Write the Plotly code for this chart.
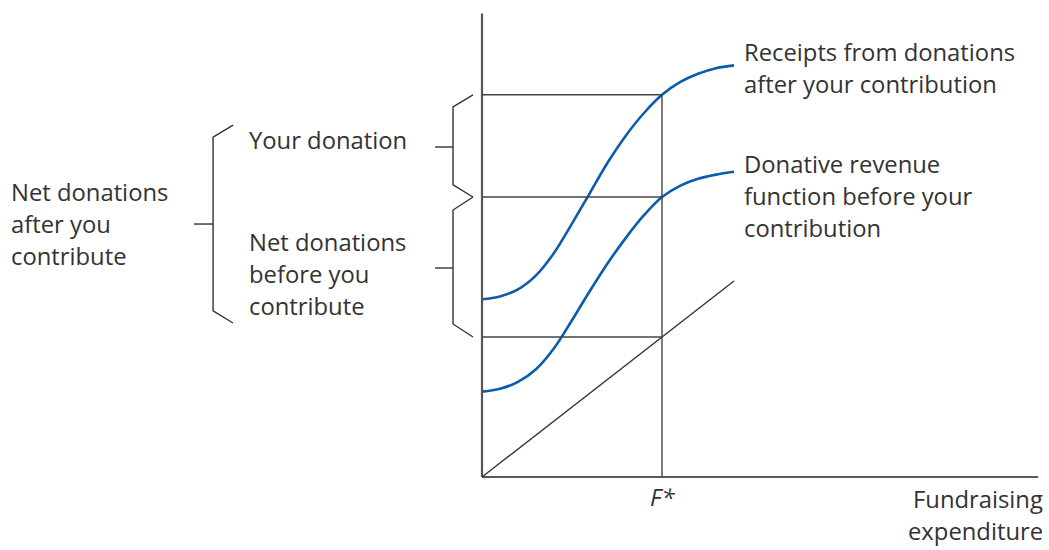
import plotly.graph_objects as go

# Fundraising expenditure (F* = 1) and revenue levels
fundraising = [0.0, 0.1, 0.2, 0.3, 0.4, 0.5, 0.6, 0.7, 0.8, 0.9, 1.0, 1.1, 1.2, 1.3, 1.4]
donative_revenue = [0.61, 0.63, 0.68, 0.77, 0.92, 1.12, 1.33, 1.53, 1.71, 1.87, 2.00, 2.08, 2.13, 2.16, 2.18]
receipts_after = [1.27, 1.29, 1.34, 1.44, 1.60, 1.81, 2.03, 2.25, 2.44, 2.60, 2.73, 2.82, 2.88, 2.92, 2.94]
cost_line_x = [0.0, 1.4]
cost_line_y = [0.0, 1.4]

f_star = 1.0
level_cost = 1.0        # fundraising cost at F*
level_before = 2.0      # net donations before your contribution
level_after = 2.73      # receipts after your contribution

x_axis_end = 3.09
y_axis_end = 3.31

BLUE = "#0b5cab"
INK = "#333333"
FONT = "Open Sans"
FS = 23.8
LINE_STEP = 0.2286

fig = go.Figure()

# Revenue curves
fig.add_trace(go.Scatter(x=fundraising, y=receipts_after, mode="lines",
                         line=dict(color=BLUE, width=2.6, shape="spline", smoothing=1.0),
                         hoverinfo="skip"))
fig.add_trace(go.Scatter(x=fundraising, y=donative_revenue, mode="lines",
                         line=dict(color=BLUE, width=2.6, shape="spline", smoothing=1.0),
                         hoverinfo="skip"))
# Cost line
fig.add_trace(go.Scatter(x=cost_line_x, y=cost_line_y, mode="lines",
                         line=dict(color=INK, width=1.4), hoverinfo="skip"))

shapes = []
def seg(x0, y0, x1, y1, color=INK, width=1.5):
    shapes.append(dict(type="line", x0=x0, y0=y0, x1=x1, y1=y1, xref="x", yref="y",
                       line=dict(color=color, width=width)))

# Axes
seg(0, 0, 0, y_axis_end, color="#555555", width=2.2)
seg(0, 0, x_axis_end, 0, color="#222222", width=1.6)

# Guide lines at F*
for lvl in (level_cost, level_before, level_after):
    seg(0, lvl, f_star, lvl, color="#444444", width=1.4)
seg(f_star, 0, f_star, level_after, color="#444444", width=1.4)

def brace(x_tip, x_spine, x_tick, top, bottom, kink, mid):
    pts = [(x_tip, top), (x_spine, top - kink), (x_spine, bottom + kink), (x_tip, bottom)]
    path = "M " + " L ".join(f"{a},{b}" for a, b in pts)
    shapes.append(dict(type="path", path=path, xref="x", yref="y",
                       line=dict(color=INK, width=1.4)))
    seg(x_spine, mid, x_tick, mid, width=1.4)

brace(-0.05, -0.161, -0.261, level_after, level_before, 0.086, 2.357)
brace(-0.05, -0.161, -0.261, level_before, level_cost, 0.093, 1.493)
brace(-1.383, -1.494, -1.60, 2.514, 1.10, 0.086, 1.807)

annotations = []
def label(lines, x, y_center, anchor="left"):
    n = len(lines)
    for i, t in enumerate(lines):
        y = y_center + (n - 1) / 2 * LINE_STEP - i * LINE_STEP
        annotations.append(dict(x=x, y=y, xref="x", yref="y", text=t, showarrow=False,
                                xanchor=anchor, yanchor="middle",
                                font=dict(family=FONT, size=FS, color=INK)))

label(["Receipts from donations", "after your contribution"], 1.444, 2.921)
label(["Donative revenue", "function before your", "contribution"], 1.444, 2.007)
label(["Your donation"], -1.305, 2.407)
label(["Net donations", "before you", "contribute"], -1.305, 1.45)
label(["Net donations", "after you", "contribute"], -2.628, 1.807)
label(["<i>F*</i>"], f_star, -0.143, anchor="center")
label(["Fundraising", "expenditure"], 3.13, -0.27, anchor="right")

fig.update_layout(
    width=1049, height=550,
    margin=dict(l=0, r=0, t=0, b=0),
    paper_bgcolor="white", plot_bgcolor="white",
    showlegend=False,
    shapes=shapes, annotations=annotations,
    xaxis=dict(range=[-482 / 180, (1049 - 482) / 180], visible=False, fixedrange=True),
    yaxis=dict(range=[(477 - 550) / 140, 477 / 140], visible=False, fixedrange=True),
)

fig.write_html("out.html")
